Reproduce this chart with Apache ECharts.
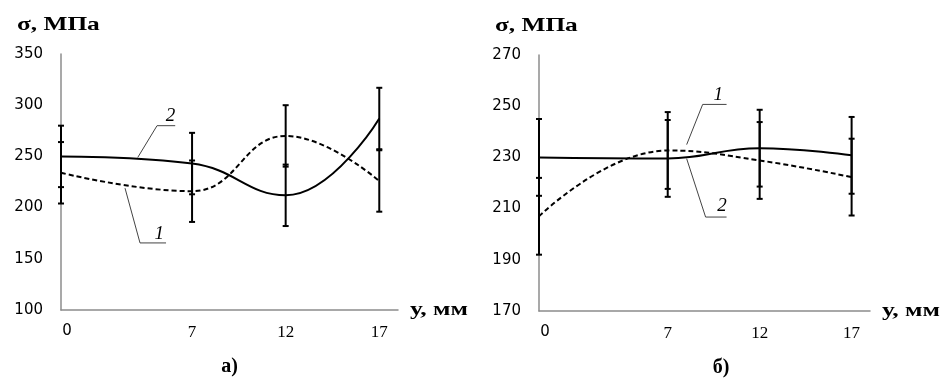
<!DOCTYPE html>
<html><head><meta charset="utf-8">
<script src="https://cdn.jsdelivr.net/npm/echarts@6/dist/echarts.min.js"></script>
<style>html,body{margin:0;padding:0;background:#fff}#c{width:945px;height:381px}</style>
</head><body><div id="c"></div>
<script>
// ---- data ----
const depths = [0, 7, 12, 17];            // y, мм
const xTickValues = [0, 7, 12, 17];
// panel а)
const aCurve1 = [234, 216, 270, 226];     // dashed, "1"
const aCurve2 = [250, 243, 212, 287];     // solid, "2"
const aErr1 = [30, 30, 30, 30];
const aErr2 = [30, 30, 30, 30];
// panel б)
const bCurve1 = [207, 232.7, 228.8, 222.3];
const bCurve2 = [230, 229.6, 233.6, 230.8];
const bErr1 = [15, 15, 15, 15];
const bErr2 = [15, 15, 15, 15];
// callouts (data coordinates): anchor on curve, elbow, underline end, label position
const aNotes = [
  {label: '2', anchor: [4.1, 249], elbow: [5.13, 280], end: [6.1, 280], text: [5.85, 289]},
  {label: '1', anchor: [3.42, 219], elbow: [4.22, 165.5], end: [5.61, 165.5], text: [5.25, 174]}
];
const bNotes = [
  {label: '1', anchor: [8.03, 235], elbow: [8.9, 250.7], end: [10.2, 250.7], text: [9.75, 254.5]},
  {label: '2', anchor: [8.03, 229.5], elbow: [9.06, 206.7], end: [10.2, 206.7], text: [9.95, 211]}
];
const yTitle = 'σ, МПа';
const xTitle = 'у, мм';
const captions = ['а)', 'б)'];
const captionAt = [9, 9.9];   // x (data units) under which each caption is centred

const pairs = (ys) => depths.map((x, i) => [x, ys[i]]);
const errs = (ys, es) => depths.map((x, i) => [x, ys[i] - es[i], ys[i] + es[i]]);

function errRender(params, api) {
  const x = api.value(0), lo = api.value(1), hi = api.value(2);
  const p1 = api.coord([x, lo]), p2 = api.coord([x, hi]);
  const st = {stroke: '#000', lineWidth: 2};
  const w = 3;
  return {type: 'group', children: [
    {type: 'line', shape: {x1: p1[0], y1: p1[1], x2: p2[0], y2: p2[1]}, style: st},
    {type: 'line', shape: {x1: p1[0] - w, y1: p1[1], x2: p1[0] + w, y2: p1[1]}, style: st},
    {type: 'line', shape: {x1: p2[0] - w, y1: p2[1], x2: p2[0] + w, y2: p2[1]}, style: st}
  ]};
}

const axisLineStyle = {color: '#8c8c8c', width: 1.5};
function xAxisDef(gi) {
  return {
    type: 'value', gridIndex: gi, min: 0, max: 18,
    axisLine: {show: true, lineStyle: axisLineStyle},
    axisTick: {show: false},
    splitLine: {show: false},
    axisLabel: {
      customValues: xTickValues, margin: 14,
      formatter: v => v === 0 ? '{s|0}' : '{t|' + v + '}',
      rich: {
        s: {fontFamily: 'DejaVu Sans', fontSize: 15, color: '#000', padding: [0, 0, 0, 12]},
        t: {fontFamily: 'Liberation Serif', fontSize: 17, color: '#000'}
      }
    }
  };
}
function yAxisDef(gi, min, max, step) {
  return {
    type: 'value', gridIndex: gi, min: min, max: max, interval: step,
    axisLine: {show: true, lineStyle: axisLineStyle},
    axisTick: {show: false},
    splitLine: {show: false},
    axisLabel: {margin: 18, fontFamily: 'DejaVu Sans', fontSize: 15, color: '#000'}
  };
}
function lineSeries(gi, ys, dashed) {
  return {
    type: 'line', xAxisIndex: gi, yAxisIndex: gi, data: pairs(ys),
    smooth: 0.45, symbol: 'none', silent: true,
    lineStyle: {color: '#000', width: 2, type: dashed ? [5, 3] : 'solid'}
  };
}
function errSeries(gi, ys, es) {
  return {type: 'custom', xAxisIndex: gi, yAxisIndex: gi, data: errs(ys, es), renderItem: errRender, silent: true, z: 3};
}

const chart = echarts.init(document.getElementById('c'));
chart.setOption({
  animation: false,
  backgroundColor: '#fff',
  grid: [
    {left: 61, top: 54, width: 337, height: 256},
    {left: 539, top: 55, width: 331, height: 256}
  ],
  xAxis: [xAxisDef(0), xAxisDef(1)],
  yAxis: [yAxisDef(0, 100, 350, 50), yAxisDef(1, 170, 270, 20)],
  series: [
    lineSeries(0, aCurve1, true), lineSeries(0, aCurve2, false),
    errSeries(0, aCurve1, aErr1), errSeries(0, aCurve2, aErr2),
    lineSeries(1, bCurve1, true), lineSeries(1, bCurve2, false),
    errSeries(1, bCurve1, bErr1), errSeries(1, bCurve2, bErr2)
  ]
});

const serifBold = (size) => ({fontFamily: 'Liberation Serif', fontWeight: 'bold', fontSize: size, fill: '#000'});
const graphics = [];
// titles, axis names and captions placed relative to each grid
[[0, aNotes, [100, 350]], [1, bNotes, [170, 270]]].forEach(([gi, notes, yr]) => {
  const P = v => chart.convertToPixel({gridIndex: gi}, v);
  const top = P([0, yr[1]]);
  const end = P([18, yr[0]]);
  const mid = P([captionAt[gi], yr[0]]);
  graphics.push({type: 'text', x: top[0] - 44, y: top[1] - 29, scaleX: 1.3, originX: 0,
    style: {...serifBold(19.5), text: yTitle, verticalAlign: 'middle'}, silent: true});
  graphics.push({type: 'text', x: end[0] + 12, y: end[1], scaleX: 1.35, originX: 0,
    style: {...serifBold(19), text: xTitle, verticalAlign: 'middle'}, silent: true});
  graphics.push({type: 'text', x: mid[0], y: end[1] + 57,
    style: {...serifBold(20), text: captions[gi], align: 'center', verticalAlign: 'middle'}, silent: true});
  notes.forEach(n => {
    const a = P(n.anchor), e = P(n.elbow), d = P(n.end), t = P(n.text);
    graphics.push({type: 'polyline', shape: {points: [a, e, d]}, style: {stroke: '#444', lineWidth: 1, fill: null}, silent: true});
    graphics.push({type: 'text', x: t[0], y: t[1], style: {text: n.label, fontFamily: 'Liberation Serif', fontStyle: 'italic', fontSize: 19, fill: '#000', align: 'center', verticalAlign: 'middle'}, silent: true});
  });
});
chart.setOption({graphic: graphics});
</script>
</body></html>
